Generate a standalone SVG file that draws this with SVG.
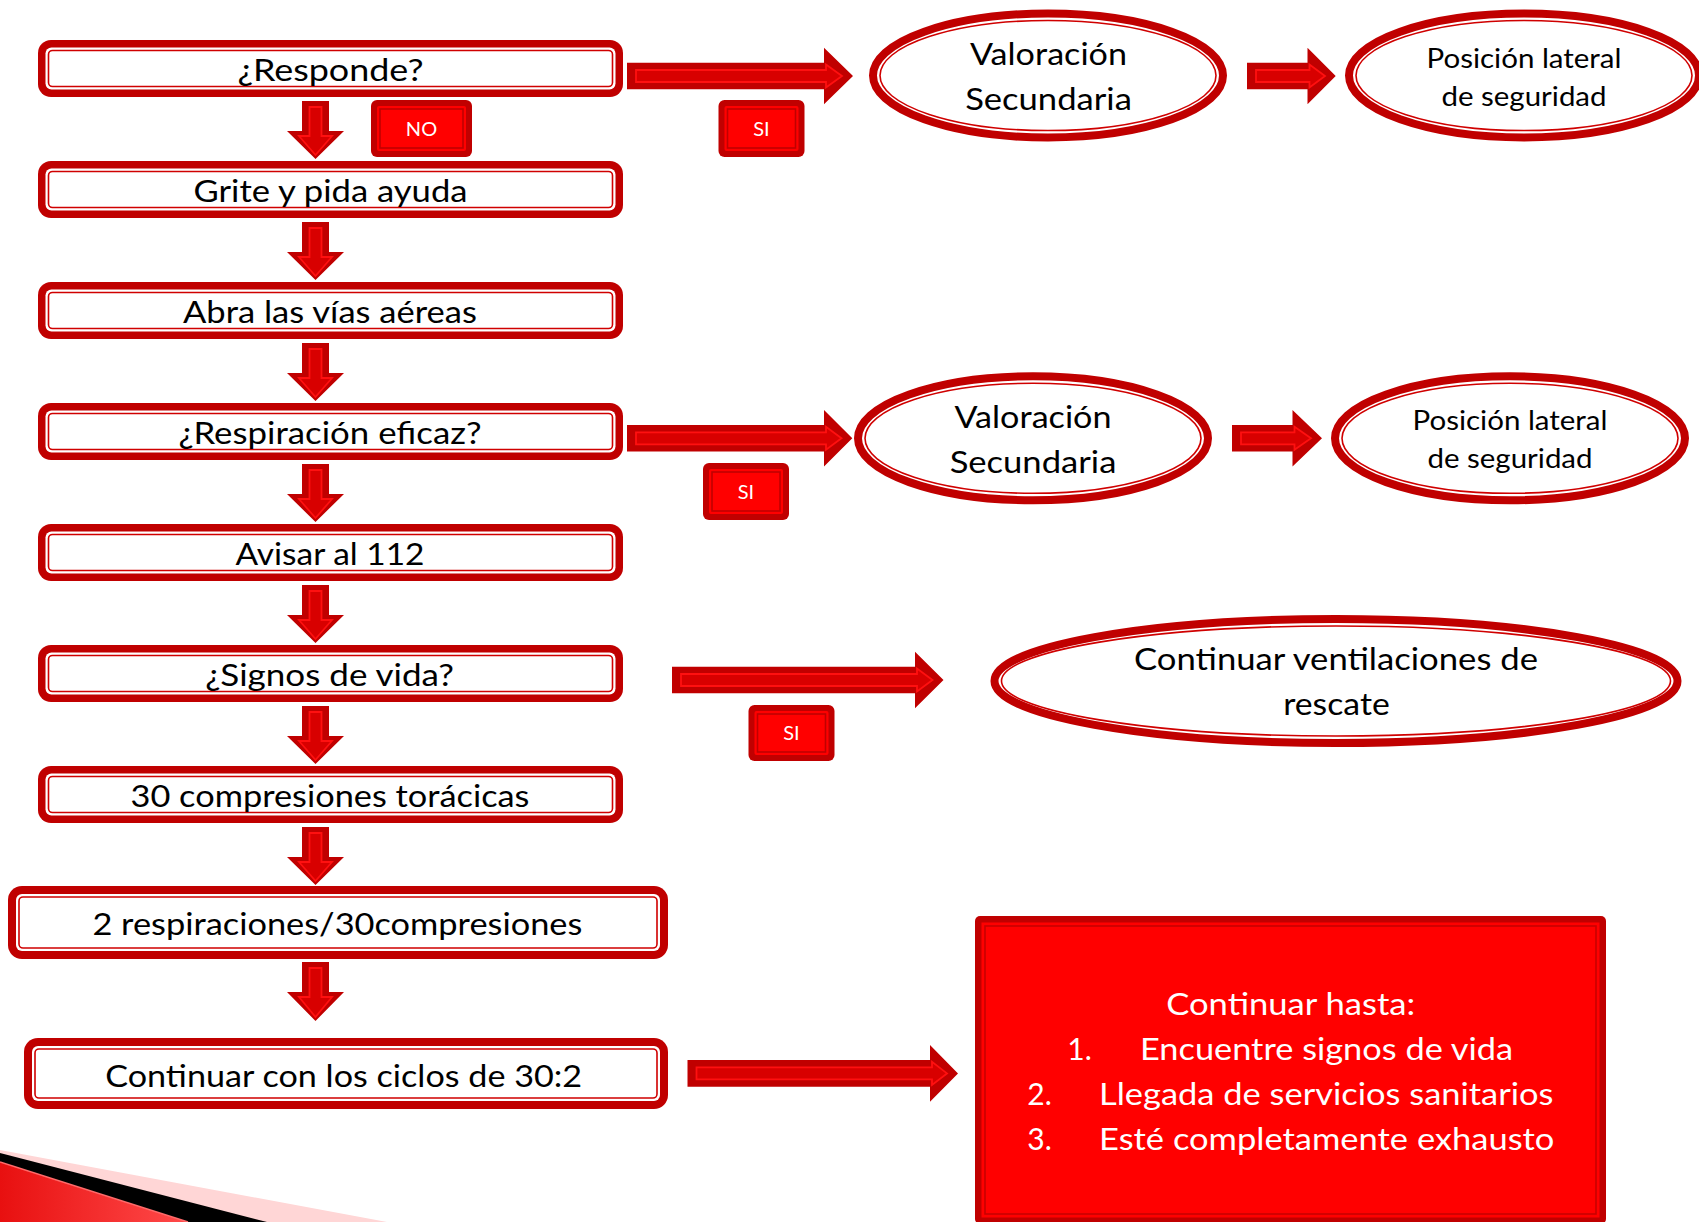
<svg xmlns="http://www.w3.org/2000/svg" width="1699" height="1222" viewBox="0 0 1699 1222">
<defs>
<linearGradient id="cornerRed" x1="0" y1="0" x2="1" y2="0">
<stop offset="0" stop-color="#E81010"/>
<stop offset="1" stop-color="#FF4A4A"/>
</linearGradient>
</defs>
<style>
.bo{fill:#C00000}
.bw{fill:#FFFFFF}
.bl{fill:#FFFFFF;stroke:#D00000;stroke-width:1.6}
.eo{fill:#FFFFFF;stroke:#C00000;stroke-width:8}
.el{fill:none;stroke:#D00000;stroke-width:1.6}
.ao{fill:#C00000}
.ai{fill:#D80000;stroke:#FF1010;stroke-width:1.8}
.lo{fill:#C00000}
.lf{fill:#FF0000}
.ll{fill:none;stroke:#C00000;stroke-width:1.6}
.t{font-family:Lato,"Liberation Sans",sans-serif;font-size:30px;fill:#000000;text-anchor:middle}
.ts{font-family:Lato,"Liberation Sans",sans-serif;font-size:26px;fill:#000000;text-anchor:middle}
.tl{font-family:Lato,"Liberation Sans",sans-serif;font-size:20px;fill:#FFFFFF;text-anchor:middle}
.tw{font-family:Lato,"Liberation Sans",sans-serif;font-size:30px;fill:#FFFFFF}
</style>

<!-- decorative corner -->
<g id="corner">
<polygon points="0,1150 387,1222 0,1222" fill="#FFD6D6"/>
<polygon points="0,1153 267,1222 0,1222" fill="#000000"/>
<polygon points="0,1162 188,1222 0,1222" fill="url(#cornerRed)"/>
<line x1="0" y1="1162" x2="188" y2="1222" stroke="#FF6A6A" stroke-width="1.5"/>
</g>

<!-- connectors -->
<g id="connectors">
<!-- down arrows -->
<polygon class="ao" points="302,101 329,101 329,131 344,131 315.5,159 287,131 302,131"/>
<polygon class="ai" points="309.5,107 321.5,107 321.5,136 332,136 315.5,155 299,136 309.5,136"/>
<polygon class="ao" points="302,222 329,222 329,252 344,252 315.5,280 287,252 302,252"/>
<polygon class="ai" points="309.5,228 321.5,228 321.5,257 332,257 315.5,276 299,257 309.5,257"/>
<polygon class="ao" points="302,343 329,343 329,373 344,373 315.5,401 287,373 302,373"/>
<polygon class="ai" points="309.5,349 321.5,349 321.5,378 332,378 315.5,397 299,378 309.5,378"/>
<polygon class="ao" points="302,464 329,464 329,494 344,494 315.5,522 287,494 302,494"/>
<polygon class="ai" points="309.5,470 321.5,470 321.5,499 332,499 315.5,518 299,499 309.5,499"/>
<polygon class="ao" points="302,585 329,585 329,615 344,615 315.5,643 287,615 302,615"/>
<polygon class="ai" points="309.5,591 321.5,591 321.5,620 332,620 315.5,639 299,620 309.5,620"/>
<polygon class="ao" points="302,706 329,706 329,736 344,736 315.5,764 287,736 302,736"/>
<polygon class="ai" points="309.5,712 321.5,712 321.5,741 332,741 315.5,760 299,741 309.5,741"/>
<polygon class="ao" points="302,827 329,827 329,857 344,857 315.5,885 287,857 302,857"/>
<polygon class="ai" points="309.5,833 321.5,833 321.5,862 332,862 315.5,881 299,862 309.5,862"/>
<polygon class="ao" points="302,962 329,962 329,992 344,992 315.5,1021 287,992 302,992"/>
<polygon class="ai" points="309.5,968 321.5,968 321.5,997 332,997 315.5,1017 299,997 309.5,997"/>
<!-- right arrows -->
<polygon class="ao" points="627,62.7 824,62.7 824,47.7 853,76 824,104.3 824,89.3 627,89.3"/>
<polygon class="ai" points="636,70 826,70 826,64.5 842,76 826,87.5 826,82 636,82"/>
<polygon class="ao" points="1247,62.7 1307.5,62.7 1307.5,47.7 1335.7,76 1307.5,104.3 1307.5,89.3 1247,89.3"/>
<polygon class="ai" points="1256,70 1309.5,70 1309.5,64.5 1325,76 1309.5,87.5 1309.5,82 1256,82"/>
<polygon class="ao" points="627,425 824,425 824,410 852.3,438.3 824,466.6 824,451.6 627,451.6"/>
<polygon class="ai" points="636,432.3 826,432.3 826,426.8 841.5,438.3 826,449.8 826,444.3 636,444.3"/>
<polygon class="ao" points="1232,425 1292.5,425 1292.5,410 1322,438.3 1292.5,466.6 1292.5,451.6 1232,451.6"/>
<polygon class="ai" points="1241,432.3 1294.5,432.3 1294.5,426.8 1311,438.3 1294.5,449.8 1294.5,444.3 1241,444.3"/>
<polygon class="ao" points="672,666.7 915,666.7 915,651.7 943.5,680 915,708.3 915,693.3 672,693.3"/>
<polygon class="ai" points="681,674 917,674 917,668.5 932.5,680 917,691.5 917,686 681,686"/>
<polygon class="ao" points="687.5,1060 930,1060 930,1045 958,1073.4 930,1101.7 930,1086.7 687.5,1086.7"/>
<polygon class="ai" points="696.5,1067.4 932,1067.4 932,1061.9 947,1073.4 932,1084.9 932,1079.4 696.5,1079.4"/>
</g>

<!-- labels -->
<g id="label-no">
<rect class="lo" x="371" y="100" width="101" height="57" rx="6"/>
<rect class="lf" x="377" y="106" width="89" height="45" rx="2"/>
<rect class="ll" x="380" y="109" width="83" height="39"/>
<text class="tl" x="421.5" y="135.5">NO</text>
</g>
<g id="label-si-1">
<rect class="lo" x="718.5" y="100" width="86" height="57" rx="6"/>
<rect class="lf" x="724.5" y="106" width="74" height="45" rx="2"/>
<rect class="ll" x="727.5" y="109" width="68" height="39"/>
<text class="tl" x="761.5" y="135.5">SI</text>
</g>
<g id="label-si-2">
<rect class="lo" x="703" y="463" width="86" height="57" rx="6"/>
<rect class="lf" x="709" y="469" width="74" height="45" rx="2"/>
<rect class="ll" x="712" y="472" width="68" height="39"/>
<text class="tl" x="746" y="498.5">SI</text>
</g>
<g id="label-si-3">
<rect class="lo" x="748.5" y="705" width="86" height="56" rx="6"/>
<rect class="lf" x="754.5" y="711" width="74" height="44" rx="2"/>
<rect class="ll" x="757.5" y="714" width="68" height="38"/>
<text class="tl" x="791.5" y="740">SI</text>
</g>

<!-- left column boxes -->
<g id="n-responde">
<rect class="bo" x="38" y="40" width="585" height="57" rx="13"/>
<rect class="bw" x="45.5" y="47.5" width="570" height="42" rx="6"/>
<rect class="bl" x="48.5" y="50.5" width="564" height="36" rx="4"/>
<text class="t" x="330.5" y="81" textLength="186" lengthAdjust="spacingAndGlyphs">¿Responde?</text>
</g>
<g id="n-grite">
<rect class="bo" x="38" y="161" width="585" height="57" rx="13"/>
<rect class="bw" x="45.5" y="168.5" width="570" height="42" rx="6"/>
<rect class="bl" x="48.5" y="171.5" width="564" height="36" rx="4"/>
<text class="t" x="330.5" y="202" textLength="274" lengthAdjust="spacingAndGlyphs">Grite y pida ayuda</text>
</g>
<g id="n-abra">
<rect class="bo" x="38" y="282" width="585" height="57" rx="13"/>
<rect class="bw" x="45.5" y="289.5" width="570" height="42" rx="6"/>
<rect class="bl" x="48.5" y="292.5" width="564" height="36" rx="4"/>
<text class="t" x="330" y="322.5" textLength="294" lengthAdjust="spacingAndGlyphs">Abra las vías aéreas</text>
</g>
<g id="n-respiracion">
<rect class="bo" x="38" y="403" width="585" height="57" rx="13"/>
<rect class="bw" x="45.5" y="410.5" width="570" height="42" rx="6"/>
<rect class="bl" x="48.5" y="413.5" width="564" height="36" rx="4"/>
<text class="t" x="330" y="443.5" textLength="303" lengthAdjust="spacingAndGlyphs">¿Respiración eficaz?</text>
</g>
<g id="n-avisar">
<rect class="bo" x="38" y="524" width="585" height="57" rx="13"/>
<rect class="bw" x="45.5" y="531.5" width="570" height="42" rx="6"/>
<rect class="bl" x="48.5" y="534.5" width="564" height="36" rx="4"/>
<text class="t" x="330" y="564.5" textLength="189" lengthAdjust="spacingAndGlyphs">Avisar al 112</text>
</g>
<g id="n-signos">
<rect class="bo" x="38" y="645" width="585" height="57" rx="13"/>
<rect class="bw" x="45.5" y="652.5" width="570" height="42" rx="6"/>
<rect class="bl" x="48.5" y="655.5" width="564" height="36" rx="4"/>
<text class="t" x="329.6" y="685.5" textLength="248.6" lengthAdjust="spacingAndGlyphs">¿Signos de vida?</text>
</g>
<g id="n-compresiones">
<rect class="bo" x="38" y="766" width="585" height="57" rx="13"/>
<rect class="bw" x="45.5" y="773.5" width="570" height="42" rx="6"/>
<rect class="bl" x="48.5" y="776.5" width="564" height="36" rx="4"/>
<text class="t" x="330" y="806.5" textLength="399" lengthAdjust="spacingAndGlyphs">30 compresiones torácicas</text>
</g>
<g id="n-respiraciones30">
<rect class="bo" x="8" y="886" width="660" height="73" rx="14"/>
<rect class="bw" x="16" y="894" width="644" height="57" rx="6"/>
<rect class="bl" x="19" y="897" width="638" height="51" rx="4"/>
<text class="t" x="337.4" y="935" textLength="490" lengthAdjust="spacingAndGlyphs">2 respiraciones/30compresiones</text>
</g>
<g id="n-ciclos">
<rect class="bo" x="24" y="1038" width="644" height="71" rx="14"/>
<rect class="bw" x="32" y="1046" width="628" height="55" rx="6"/>
<rect class="bl" x="35" y="1049" width="622" height="49" rx="4"/>
<text class="t" x="343.7" y="1086.5" textLength="477" lengthAdjust="spacingAndGlyphs">Continuar con los ciclos de 30:2</text>
</g>

<!-- ellipses -->
<g id="n-valoracion-1">
<ellipse class="eo" cx="1048" cy="75.5" rx="175" ry="62"/>
<ellipse class="el" cx="1048" cy="75.5" rx="168" ry="55"/>
<text class="t" x="1048.5" y="65" textLength="157" lengthAdjust="spacingAndGlyphs">Valoración</text>
<text class="t" x="1048.5" y="110" textLength="166.7" lengthAdjust="spacingAndGlyphs">Secundaria</text>
</g>
<g id="n-posicion-1">
<ellipse class="eo" cx="1524" cy="75.5" rx="175" ry="62"/>
<ellipse class="el" cx="1524" cy="75.5" rx="168" ry="55"/>
<text class="ts" x="1524" y="68" textLength="195" lengthAdjust="spacingAndGlyphs">Posición lateral</text>
<text class="ts" x="1524" y="106" textLength="165" lengthAdjust="spacingAndGlyphs">de seguridad</text>
</g>
<g id="n-valoracion-2">
<ellipse class="eo" cx="1033" cy="438.3" rx="175" ry="62"/>
<ellipse class="el" cx="1033" cy="438.3" rx="168" ry="55"/>
<text class="t" x="1033" y="428.3" textLength="157" lengthAdjust="spacingAndGlyphs">Valoración</text>
<text class="t" x="1033" y="473.3" textLength="166.7" lengthAdjust="spacingAndGlyphs">Secundaria</text>
</g>
<g id="n-posicion-2">
<ellipse class="eo" cx="1510" cy="438.3" rx="175" ry="62"/>
<ellipse class="el" cx="1510" cy="438.3" rx="168" ry="55"/>
<text class="ts" x="1510" y="430" textLength="195" lengthAdjust="spacingAndGlyphs">Posición lateral</text>
<text class="ts" x="1510" y="468" textLength="165" lengthAdjust="spacingAndGlyphs">de seguridad</text>
</g>
<g id="n-ventilaciones">
<ellipse class="eo" cx="1336" cy="681" rx="341.5" ry="62"/>
<ellipse class="el" cx="1336" cy="681" rx="334.5" ry="55"/>
<text class="t" x="1336" y="670" textLength="404" lengthAdjust="spacingAndGlyphs">Continuar ventilaciones de</text>
<text class="t" x="1336.5" y="715" textLength="106.6" lengthAdjust="spacingAndGlyphs">rescate</text>
</g>

<!-- final red box -->
<g id="n-continuar-hasta">
<rect x="975" y="916" width="631" height="308" rx="5" fill="#C00000"/>
<rect x="981.5" y="922.5" width="618" height="295" fill="#FF0000"/>
<rect x="985" y="926" width="611" height="288" fill="none" stroke="#C80000" stroke-width="1.6"/>
<text class="tw" x="1290.7" y="1015" text-anchor="middle" textLength="249" lengthAdjust="spacingAndGlyphs">Continuar hasta:</text>
<text class="tw" x="1067.3" y="1060">1.</text>
<text class="tw" x="1140" y="1060" textLength="373" lengthAdjust="spacingAndGlyphs">Encuentre signos de vida</text>
<text class="tw" x="1027.3" y="1105">2.</text>
<text class="tw" x="1099" y="1105" textLength="454.5" lengthAdjust="spacingAndGlyphs">Llegada de servicios sanitarios</text>
<text class="tw" x="1027.3" y="1150">3.</text>
<text class="tw" x="1099" y="1150" textLength="455.4" lengthAdjust="spacingAndGlyphs">Esté completamente exhausto</text>
</g>
</svg>
